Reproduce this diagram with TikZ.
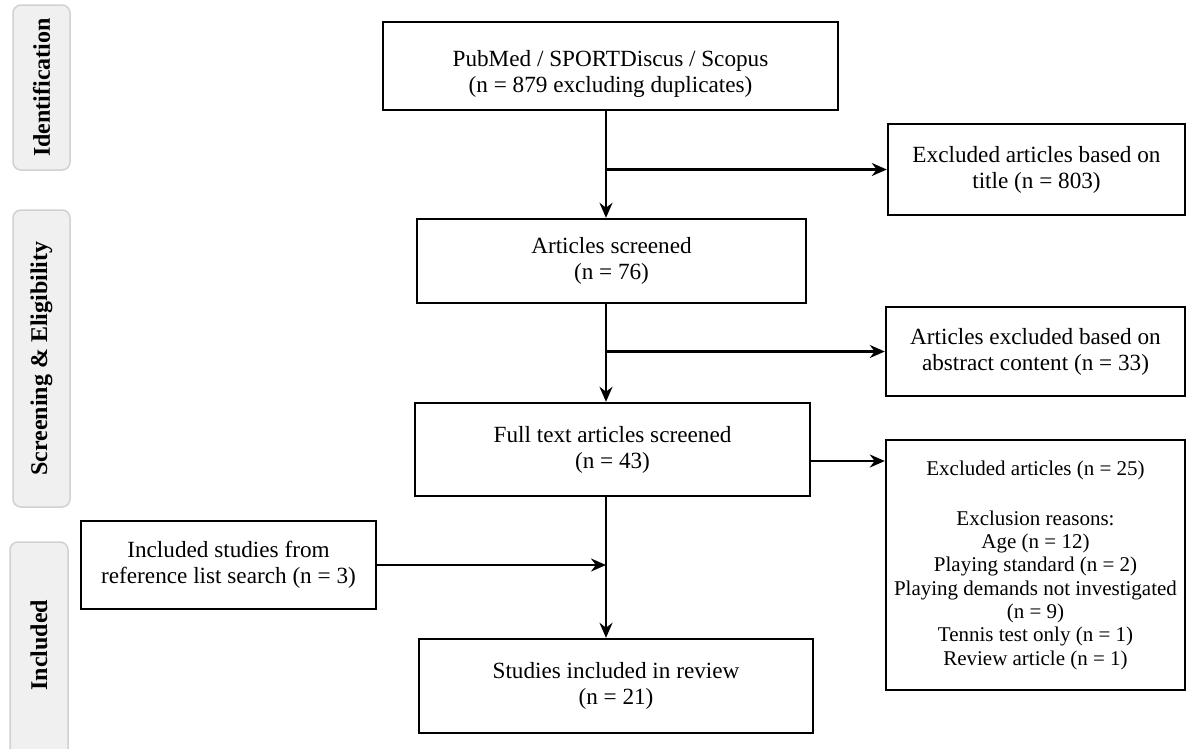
\documentclass[tikz,border=0pt]{standalone}
\usepackage{fontspec}
\setmainfont{Liberation Serif}
\usetikzlibrary{arrows.meta}

\begin{document}
\begin{tikzpicture}[x=1pt,y=-1pt,
        box/.style={draw=black, line width=2.4pt, align=center, inner sep=0pt,
            font=\fontsize{23.2}{26}\selectfont},
        listbox/.style={box, font=\fontsize{21}{23.3}\selectfont},
        phase/.style={draw=black!18, fill=black!6, line width=1.5pt, rounded corners=8pt},
        phaselabel/.style={rotate=90, font=\fontsize{24}{26}\selectfont\bfseries},
        arr/.style={line width=2.2pt, -{Stealth[length=15pt,width=13pt]}}]
        \useasboundingbox (0,0) rectangle (1195,748);

        \draw[phase] (13,5) rectangle (70,170);
        \draw[phase] (13,210) rectangle (70,507);
        \draw[phase] (10,542) rectangle (68,760);
        \node[phaselabel] (idf) at (41.5,87.5) {Identification};
        \node[phaselabel] (scrn) at (41.5,358.5) {Screening \& Eligibility};
        \node[phaselabel] (incl) at (39,645) {Included};

        \node[box, minimum width=455pt, minimum height=88pt,
            label={[align=center, yshift=-8pt, font=\fontsize{23.2}{26}\selectfont]center:%
            PubMed / SPORTDiscus / Scopus\\(n = 879 excluding duplicates)}] (db) at (610.5,66) {};
        \node[box, minimum width=297pt, minimum height=91pt] (title) at (1036.5,169.5)
            {Excluded articles based on\\title (n = 803)};
        \node[box, minimum width=389pt, minimum height=84pt] (scr) at (611.5,261)
            {Articles screened\\(n = 76)};
        \node[box, minimum width=299pt, minimum height=89pt] (abs) at (1035.5,351.5)
            {Articles excluded based on\\abstract content (n = 33)};
        \node[box, minimum width=395pt, minimum height=93pt] (full) at (612.5,449.5)
            {Full text articles screened\\(n = 43)};
        \node[listbox, minimum width=299pt, minimum height=250pt] (exc) at (1035.5,565)
            {Excluded articles (n = 25)\\[27pt]Exclusion reasons:\\Age (n = 12)\\Playing standard (n = 2)\\
            Playing demands not investigated\\(n = 9)\\Tennis test only (n = 1)\\Review article (n = 1)};
        \node[box, minimum width=295pt, minimum height=88pt] (ref) at (228.5,565)
            {Included studies from\\reference list search (n = 3)};
        \node[box, minimum width=394pt, minimum height=94pt] (inc) at (616,686)
            {Studies included in review\\(n = 21)};

        \coordinate (spine) at (606,0);
        \draw[arr] (db.south -| spine) -- (scr.north -| spine);
        \draw[arr] (title.west -| spine) -- (title.west);
        \draw[arr] (scr.south -| spine) -- (full.north -| spine);
        \draw[arr] (abs.west -| spine) -- (abs.west);
        \draw[arr] ([yshift=-11.5pt]full.east) -- ([yshift=-11.5pt]full.east -| exc.west);
        \draw[arr] (full.south -| spine) -- (inc.north -| spine);
        \draw[arr] (ref.east) -- (ref.east -| spine);
    \end{tikzpicture}
\end{document}
